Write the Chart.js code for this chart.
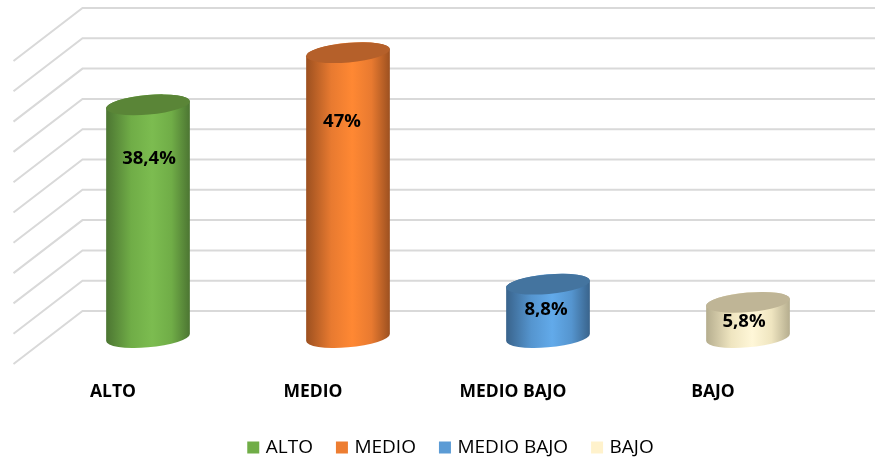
<!DOCTYPE html>
<html lang="es">
<head>
<meta charset="utf-8">
<title>Nivel</title>
<style>
    html, body { margin: 0; padding: 0; background: #fff; }
    #wrap { width: 875px; height: 459px; }
</style>
<script src="https://cdn.jsdelivr.net/npm/chart.js@4"></script>
</head>
<body>
<div id="wrap"><canvas id="levelChart" width="875" height="459"></canvas></div>
<script>
    var categories = ['ALTO', 'MEDIO', 'MEDIO BAJO', 'BAJO'];
    var values = [38.4, 47, 8.8, 5.8];
    var valueLabels = ['38,4%', '47%', '8,8%', '5,8%'];

    // couleurs: legende, haut du cylindre, bords, centre
    var legendColors = ['#70ad47', '#ed7d31', '#5b9bd5', '#fff2cc'];
    var topColors = ['#5a8537', '#b5602a', '#44749f', '#bfb596'];
    var edgeColors = ['#4c7532', '#9c5020', '#39638b', '#b5ad8e'];
    var bodyColors = ['#70ad47', '#e87a30', '#5595cf', '#efe5c0'];
    var lightColors = ['#7cbc50', '#ff8833', '#62aaea', '#fff7d8'];

    var wallDx = 34.5;
    var wallDy = 26.5;
    var gridColor = '#d9d9d9';
    var labelFont = '700 18.5px "Open Sans"';

    function drawFloorAndWall(chart) {
        var ctx = chart.ctx;
        var yScale = chart.scales.y;
        var left = chart.chartArea.left;
        ctx.save();
        ctx.strokeStyle = gridColor;
        ctx.lineWidth = 2;
        yScale.ticks.forEach(function (tick) {
            var y = yScale.getPixelForValue(tick.value);
            ctx.beginPath();
            ctx.moveTo(left - wallDx, y + wallDy);
            ctx.lineTo(left + wallDx, y - wallDy);
            ctx.lineTo(chart.width, y - wallDy);
            ctx.stroke();
        });
        ctx.restore();
    }

    function drawCylinder(ctx, bar, i) {
        var rx = bar.width / 2;
        var ry = 9.8;
        var tilt = -5 * Math.PI / 180;
        var grad = ctx.createLinearGradient(bar.x - rx, 0, bar.x + rx, 0);
        grad.addColorStop(0, edgeColors[i]);
        grad.addColorStop(0.3, bodyColors[i]);
        grad.addColorStop(0.55, lightColors[i]);
        grad.addColorStop(0.78, bodyColors[i]);
        grad.addColorStop(1, edgeColors[i]);

        ctx.save();
        ctx.fillStyle = grad;
        ctx.beginPath();
        ctx.ellipse(bar.x, bar.base, rx, ry, tilt, Math.PI + 0.02, 0.02, true);
        ctx.ellipse(bar.x, bar.y, rx, ry, tilt, 0.02, Math.PI + 0.02, true);
        ctx.closePath();
        ctx.fill();

        ctx.fillStyle = topColors[i];
        ctx.beginPath();
        ctx.ellipse(bar.x, bar.y, rx, ry, tilt, 0, Math.PI * 2);
        ctx.fill();
        ctx.restore();
    }

    var cylinderPlugin = {
        id: 'cylinders',
        beforeDatasetsDraw: function (chart) {
            drawFloorAndWall(chart);
        },
        // on remplace le rectangle par le cylindre
        beforeDatasetDraw: function (chart, args) {
            args.meta.data.forEach(function (bar, i) {
                drawCylinder(chart.ctx, bar, i);
            });
            return false;
        },
        afterDatasetsDraw: function (chart, args, opts) {
            var ctx = chart.ctx;
            ctx.save();
            ctx.font = labelFont;
            ctx.fillStyle = '#000';
            ctx.textAlign = 'center';
            ctx.textBaseline = 'middle';
            chart.getDatasetMeta(0).data.forEach(function (bar, i) {
                ctx.fillText(valueLabels[i], bar.x + opts.shiftX[i], bar.y + opts.shiftY[i]);
            });
            ctx.restore();
        },
        afterLayout: function (chart) {
            // legende decalee comme sur l'original
            chart.legend.left += 8;
            chart.legend.top += 8;
        }
    };

    new Chart(document.getElementById('levelChart').getContext('2d'), {
        type: 'bar',
        data: {
            labels: categories,
            datasets: [{
                data: values,
                backgroundColor: legendColors,
                barPercentage: 0.42,
                categoryPercentage: 1
            }]
        },
        plugins: [cylinderPlugin],
        options: {
            responsive: false,
            animation: false,
            layout: {
                padding: { left: 48, right: 27, top: 34.5, bottom: 0 }
            },
            scales: {
                x: {
                    grid: { display: false },
                    border: { display: false },
                    afterFit: function (scale) { scale.height = 66.5; },
                    ticks: {
                        color: '#000',
                        padding: 36,
                        labelOffset: -35,
                        maxRotation: 0,
                        autoSkip: false,
                        font: { family: 'Open Sans', size: 17.5, weight: '700' }
                    }
                },
                y: {
                    display: false,
                    min: 0,
                    max: 50,
                    ticks: { stepSize: 5 }
                }
            },
            plugins: {
                tooltip: { enabled: false },
                legend: {
                    display: true,
                    position: 'bottom',
                    labels: {
                        color: '#222',
                        boxWidth: 6,
                        boxHeight: 6,
                        padding: 26,
                        font: { family: 'Open Sans', size: 19 },
                        generateLabels: function () {
                            return categories.map(function (name, i) {
                                return {
                                    text: name,
                                    fillStyle: legendColors[i],
                                    strokeStyle: legendColors[i],
                                    lineWidth: 6,
                                    index: i
                                };
                            });
                        }
                    }
                },
                cylinders: {
                    shiftX: [1, -6, -2, -4],
                    shiftY: [54, 69, 26, 19]
                }
            }
        }
    });
</script>
</body>
</html>
